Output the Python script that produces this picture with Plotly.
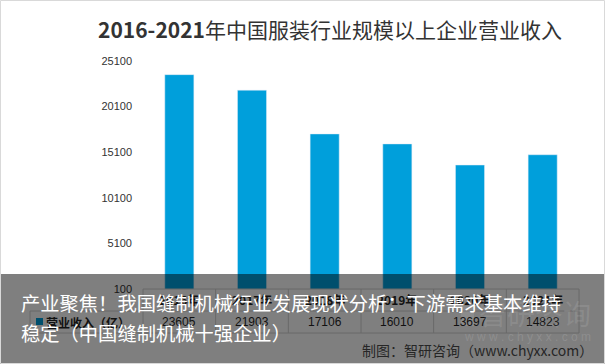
import plotly.graph_objects as go

categories = ["2016年", "2017年", "2018年", "2019年", "2020年", "2021年"]
revenue = [23605, 21903, 17106, 16010, 13697, 14823]
series_name = "营业收入（亿）"
title_text = "<b>2016-2021</b>年中国服装行业规模以上企业营业收入"
banner_line1 = "产业聚焦！我国缝制机械行业发展现状分析：下游需求基本维持"
banner_line2 = "稳定（中国缝制机械十强企业）"
source_text = "制图：智研咨询（www.chyxx.com）"

W, H = 605, 364
L, R, T, B = 143, 26, 61, 75
PW, PH = W - L - R, H - T - B

def px(x):
    return (x - L) / PW

def py(y):
    return (H - B - y) / PH

BAR = "#009FDB"
CJK = "Noto Sans CJK SC, Liberation Sans, sans-serif"

fig = go.Figure()
fig.add_trace(go.Bar(x=categories, y=revenue, marker_color=BAR, width=0.4,
                     name=series_name, showlegend=False, hoverinfo="skip"))

shapes = []
ln = dict(color="#d0d0d0", width=1)
# table grid
shapes.append(dict(type="line", xref="paper", yref="paper", x0=0, x1=1, y0=py(289), y1=py(289), line=ln, layer="above"))
for yy in (311, 333):
    shapes.append(dict(type="line", xref="paper", yref="paper", x0=px(30), x1=1, y0=py(yy), y1=py(yy), line=ln, layer="above"))
for i in range(len(categories) + 1):
    shapes.append(dict(type="line", xref="paper", yref="paper", x0=i / len(categories), x1=i / len(categories),
                       y0=py(289), y1=py(333), line=ln, layer="above"))
shapes.append(dict(type="line", xref="paper", yref="paper", x0=px(30), x1=px(30), y0=py(311), y1=py(333), line=ln, layer="above"))
# legend key
shapes.append(dict(type="rect", xref="paper", yref="paper", x0=px(36), x1=px(43), y0=py(325), y1=py(318),
                   fillcolor=BAR, line=dict(width=0), layer="above"))
# dark overlay banner
shapes.append(dict(type="rect", xref="paper", yref="paper", x0=px(-2), x1=px(W + 2), y0=py(H + 2), y1=py(274),
                   fillcolor="rgba(0,0,0,0.5)", line=dict(width=0), layer="above"))
# watermark icon
shapes.append(dict(type="rect", xref="paper", yref="paper", x0=px(461), x1=px(474), y0=py(326), y1=py(306),
                   fillcolor="rgba(255,255,255,0.10)", line=dict(width=0), layer="above"))
# outer border
shapes.append(dict(type="rect", xref="paper", yref="paper", x0=px(0.5), x1=px(W - 0.5), y0=py(H - 0.5), y1=py(0.5),
                   line=dict(color="#d9d9d9", width=1), layer="above"))

ann = []
for c, v in zip(categories, revenue):
    ann.append(dict(x=c, y=py(299), xref="x", yref="paper", text="<b>%s</b>" % c, showarrow=False,
                    font=dict(family=CJK, size=12, color="#111111"), xanchor="center", yanchor="middle"))
    ann.append(dict(x=c, y=py(322), xref="x", yref="paper", text=str(v), showarrow=False,
                    font=dict(family="Liberation Sans, sans-serif", size=12, color="#111111"),
                    xanchor="center", yanchor="middle"))
ann.append(dict(x=px(44), y=py(322), xref="paper", yref="paper", text="<b>%s</b>" % series_name, showarrow=False,
                font=dict(family=CJK, size=12, color="#111111"), xanchor="left", yanchor="middle"))
# watermark
ann.append(dict(x=px(477), y=py(313), xref="paper", yref="paper", text="智研咨询", showarrow=False,
                font=dict(family=CJK, size=28, color="rgba(255,255,255,0.10)"), xanchor="left", yanchor="middle"))
ann.append(dict(x=px(527), y=py(337), xref="paper", yref="paper", text="w w w . c h y x x . c o m", showarrow=False,
                font=dict(family="Liberation Sans, sans-serif", size=12, color="rgba(255,255,255,0.12)"),
                xanchor="center", yanchor="middle"))
# banner text
ann.append(dict(x=px(19), y=py(303), xref="paper", yref="paper", text=banner_line1, showarrow=False,
                font=dict(family=CJK, size=19.3, color="#ffffff"), xanchor="left", yanchor="middle"))
ann.append(dict(x=px(19), y=py(333), xref="paper", yref="paper", text=banner_line2, showarrow=False,
                font=dict(family=CJK, size=19.3, color="#ffffff"), xanchor="left", yanchor="middle"))
ann.append(dict(x=px(360), y=py(350), xref="paper", yref="paper", text=source_text, showarrow=False,
                font=dict(family=CJK, size=14, color="#262626"), xanchor="left", yanchor="middle"))

fig.update_layout(
    width=W, height=H,
    margin=dict(l=L, r=R, t=T, b=B, pad=0),
    paper_bgcolor="#ffffff", plot_bgcolor="#ffffff",
    title=dict(text=title_text, x=px(330), xref="paper", xanchor="center", y=1 - 31 / H, yanchor="middle",
               font=dict(family=CJK, size=21, color="#333333")),
    xaxis=dict(showticklabels=False, showgrid=False, zeroline=False, showline=False, ticks=""),
    yaxis=dict(range=[100, 25100], tick0=100, dtick=5000, tickformat="d", showgrid=False, zeroline=False,
               showline=False,
               tickfont=dict(family="Liberation Sans, sans-serif", size=11, color="#333333"),
               ticklabelstandoff=10),
    bargap=0.6,
    shapes=shapes, annotations=ann,
)

fig.write_html("out.html", config={"displayModeBar": False},
               post_script="document.body.style.margin='0';document.body.style.overflow='hidden';")
